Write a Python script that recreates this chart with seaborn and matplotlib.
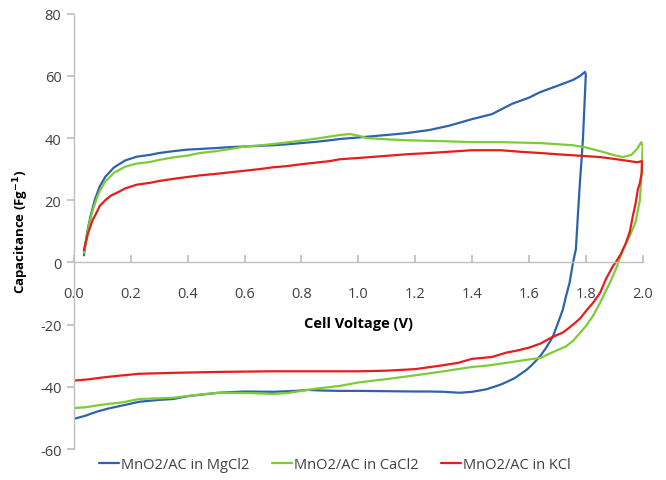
import matplotlib
matplotlib.use("Agg")
import matplotlib.pyplot as plt
import seaborn as sns
import pandas as pd

# MgCl2 (blue): forward scan then reverse scan
mg_v = [0.035, 0.047, 0.06, 0.074, 0.091, 0.11, 0.14, 0.18, 0.22, 0.267, 0.3, 0.35, 0.4, 0.443, 0.5,
        0.55, 0.6, 0.65, 0.7, 0.75, 0.8, 0.85, 0.9, 0.935, 1.0, 1.05, 1.1, 1.17, 1.25, 1.32, 1.4, 1.47,
        1.54, 1.6, 1.64, 1.7, 1.755, 1.78, 1.797, 1.8, 1.795, 1.79, 1.785, 1.78, 1.772, 1.765, 1.755,
        1.743, 1.73, 1.719, 1.70, 1.684, 1.66, 1.638, 1.61, 1.592, 1.55, 1.52, 1.497, 1.45, 1.40,
        1.357, 1.3, 1.25, 1.2, 1.1, 1.0, 0.935, 0.88, 0.82, 0.78, 0.7, 0.6, 0.51, 0.45, 0.4, 0.35,
        0.3, 0.23, 0.17, 0.12, 0.08, 0.04, 0.0]
mg_c = [2.3, 10, 15.5, 20.3, 24.5, 27.5, 30.5, 32.8, 34, 34.6, 35.2, 35.8, 36.3, 36.5, 36.8,
        37.1, 37.3, 37.5, 37.7, 38, 38.4, 38.8, 39.3, 39.7, 40.2, 40.6, 41, 41.6, 42.6, 44, 46.1, 47.7,
        51, 53, 54.8, 56.8, 58.7, 60, 61.3, 60.5, 50, 40, 33, 26.8, 15, 4.2, 0,
        -6.5, -11, -15.2, -20, -23.9, -27.5, -30.3, -33, -34.5, -37.2, -38.5, -39.4, -40.8, -41.6,
        -41.9, -41.6, -41.5, -41.5, -41.4, -41.3, -41.3, -41.2, -41, -41.3, -41.6, -41.5, -41.9, -42.5, -43, -43.9,
        -44.2, -44.8, -46, -47, -48, -49.3, -50.3]

# CaCl2 (green)
ca_v = [0.035, 0.05, 0.065, 0.079, 0.091, 0.11, 0.14, 0.18, 0.22, 0.267, 0.3, 0.35, 0.4, 0.443, 0.5,
        0.55, 0.6, 0.65, 0.7, 0.75, 0.8, 0.85, 0.9, 0.935, 0.97, 1.0, 1.03, 1.1, 1.17, 1.3, 1.4, 1.5,
        1.64, 1.755, 1.8, 1.85, 1.9, 1.93, 1.96, 1.98, 1.995, 2.0, 1.997, 1.99, 1.975, 1.954, 1.93,
        1.91, 1.89, 1.87, 1.85, 1.825, 1.8, 1.78, 1.755, 1.73, 1.7, 1.68, 1.64, 1.6, 1.52, 1.45,
        1.40, 1.3, 1.2, 1.1, 1.0, 0.935, 0.85, 0.8, 0.75, 0.7, 0.62, 0.51, 0.45, 0.35, 0.3, 0.23,
        0.17, 0.12, 0.08, 0.04, 0.0]
ca_c = [3, 11, 16.5, 20.3, 23, 26, 28.8, 30.8, 31.8, 32.3, 33, 33.8, 34.4, 35.2, 35.8,
        36.5, 37.3, 37.6, 38.1, 38.6, 39.2, 39.8, 40.5, 41, 41.3, 40.8, 40, 39.6, 39.3, 39, 38.7, 38.7,
        38.4, 37.7, 37, 35.8, 34.5, 33.9, 34.6, 36.5, 38.7, 37.5, 30, 20, 13, 8.4, 4.2,
        -1.2, -5.5, -9.2, -13, -17.2, -20.5, -22.6, -25.2, -27, -28.2, -29, -30.7, -31.2, -32.3, -33.2,
        -33.6, -35, -36.3, -37.5, -38.6, -39.7, -40.6, -41.3, -42, -42.3, -42, -41.9, -42.4, -43.5, -43.7, -43.9,
        -45, -45.5, -46, -46.6, -46.8]

# KCl (red)
k_v = [0.035, 0.05, 0.065, 0.08, 0.091, 0.11, 0.13, 0.155, 0.18, 0.22, 0.267, 0.3, 0.35, 0.4, 0.443,
       0.5, 0.55, 0.6, 0.65, 0.7, 0.75, 0.8, 0.85, 0.9, 0.935, 1.0, 1.1, 1.17, 1.25, 1.3, 1.4, 1.5,
       1.57, 1.64, 1.7, 1.75, 1.8, 1.85, 1.9, 1.954, 1.98, 1.997, 1.997, 1.99, 1.983, 1.975, 1.965,
       1.955, 1.94, 1.925, 1.905, 1.895, 1.87, 1.85, 1.825, 1.80, 1.78, 1.755, 1.72, 1.68, 1.64,
       1.60, 1.56, 1.52, 1.47, 1.40, 1.35, 1.287, 1.2, 1.1, 1.0, 0.935, 0.8, 0.7, 0.6, 0.51, 0.35,
       0.23, 0.15, 0.1, 0.05, 0.0]
k_c = [4, 9.5, 13.5, 16.1, 18.2, 20, 21.5, 22.6, 23.8, 25, 25.6, 26.2, 26.9, 27.5, 28,
       28.5, 29, 29.5, 30, 30.6, 31, 31.6, 32.1, 32.6, 33.2, 33.6, 34.3, 34.8, 35.2, 35.5, 36.1, 36.1,
       35.6, 35.2, 34.8, 34.5, 34.2, 33.9, 33.3, 32.6, 32.2, 32.6, 29, 25.5, 23.5, 19, 14.8,
       10, 6, 3, 0, -1.2, -5.5, -9.8, -13, -15.7, -18, -20, -22.5, -24.1, -26.1,
       -27.4, -28.3, -29, -30.4, -31, -32.3, -33.2, -34.3, -34.8, -35, -35, -35, -35, -35.1, -35.2, -35.5,
       -35.8, -36.5, -37, -37.6, -38]

series_names = ["MnO2/AC in MgCl2", "MnO2/AC in CaCl2", "MnO2/AC in KCl"]
colors = ["#2f62ad", "#7dcc36", "#e81c1c"]

frames = []
for name, v, c in zip(series_names, [mg_v, ca_v, k_v], [mg_c, ca_c, k_c]):
    d = pd.DataFrame({"v": v, "c": c})
    d["series"] = name
    frames.append(d)
df = pd.concat(frames, ignore_index=True)

sns.set_theme(style="white")
plt.rcParams["font.family"] = ["Open Sans", "DejaVu Sans"]
plt.rcParams["axes.unicode_minus"] = False

fig = plt.figure(figsize=(6.66, 4.81), dpi=100)
ax = fig.add_axes([0.111, 0.0644, 0.854, 0.905])

for name, col in zip(series_names, colors):
    sub = df[df["series"] == name]
    sns.lineplot(data=sub, x="v", y="c", sort=False, estimator=None, color=col,
                 linewidth=1.6, ax=ax, label=name, legend=False)

ax.set_xlim(0, 2.0)
ax.set_ylim(-60, 80)
ax.set_xticks([i * 0.2 for i in range(11)])
ax.set_xticklabels([f"{i * 0.2:.1f}" for i in range(11)])
ax.set_yticks(range(-60, 81, 20))

for s in ["top", "right"]:
    ax.spines[s].set_visible(False)
ax.spines["bottom"].set_position(("data", 0))
for s in ["left", "bottom"]:
    ax.spines[s].set_color("#bfbfbf")
    ax.spines[s].set_linewidth(1.0)

ax.tick_params(axis="x", direction="in", length=5, color="#bfbfbf", labelsize=10.5,
               labelcolor="#404040", pad=17, bottom=True)
ax.tick_params(axis="y", direction="out", length=5, color="#bfbfbf", labelsize=10.5,
               labelcolor="#404040", left=True, pad=4)

ax.set_xlabel("Cell Voltage (V)", fontsize=10.5, fontweight="bold", color="#000000")
ax.xaxis.set_label_coords(0.5, 0.305)
ax.set_ylabel("Capacitance (Fg$^{\\mathbf{-1}}$)", fontsize=9.5, fontweight="bold", color="#000000",
              va="center", family=["Liberation Sans Narrow", "Open Sans", "DejaVu Sans"])
ax.yaxis.set_label_coords(-0.092, 0.5)

handles, labels = ax.get_legend_handles_labels()
fig.legend(handles, labels, loc="center", bbox_to_anchor=(0.503, 0.033), ncol=3,
           frameon=False, fontsize=10.5, handlelength=1.4, handletextpad=0.15,
           columnspacing=1.5, labelcolor="#404040")

fig.savefig("out.png", dpi=100)
